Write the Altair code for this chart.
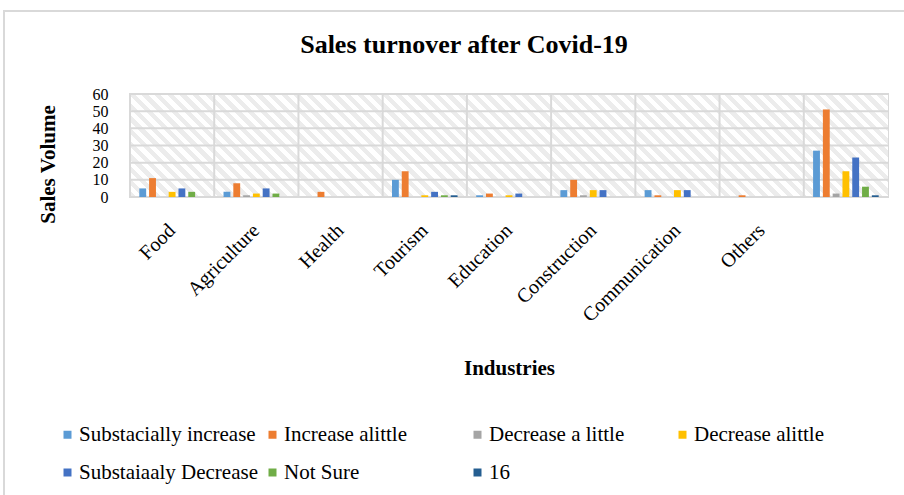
import altair as alt
import pandas as pd
import math

# ---- data ----
industries = ["Food", "Agriculture", "Health", "Tourism", "Education",
              "Construction", "Communication", "Others", "Total"]
series_names = ["Substacially increase", "Increase alittle", "Decrease a little",
                "Decrease alittle", "Substaiaaly Decrease", "Not Sure", "16"]
subst_increase    = [5, 3, 0, 10, 1, 4, 4, 0, 27]
increase_alittle  = [11, 8, 3, 15, 2, 10, 1, 1, 51]
decrease_a_little = [0, 1, 0, 0, 0, 1, 0, 0, 2]
decrease_alittle  = [3, 2, 0, 1, 1, 4, 4, 0, 15]
subst_decrease    = [5, 5, 0, 3, 2, 4, 4, 0, 23]
not_sure          = [3, 2, 0, 1, 0, 0, 0, 0, 6]
s16               = [0, 0, 0, 1, 0, 0, 0, 0, 1]
y_ticks = [0, 10, 20, 30, 40, 50, 60]

colors = ["#5B9BD5", "#ED7D31", "#A5A5A5", "#FFC000", "#4472C4", "#70AD47", "#255E91"]

all_series = [subst_increase, increase_alittle, decrease_a_little,
              decrease_alittle, subst_decrease, not_sure, s16]
rows = []
for name, vals in zip(series_names, all_series):
    for ind, v in zip(industries, vals):
        rows.append({"industry": ind, "series": name, "value": v})
df = pd.DataFrame(rows)

# ---- layout ----
W, H = 758, 103
PAD = {"left": 130, "top": 94, "right": 16, "bottom": 298}
FONT = "Liberation Serif"
GRID = "#d9d9d9"

# diagonal hatch background approximated with a striped linear gradient
r = H / W
k = (1 + r) / (1 + r * r)
n_periods = int(round((W + H) / math.sqrt(2) / 9))
stops = []
for i in range(n_periods):
    a = i / n_periods
    b = (i + 0.5) / n_periods
    c = (i + 1) / n_periods
    stops += [{"offset": a, "color": "#ececec"}, {"offset": b, "color": "#ececec"},
              {"offset": b, "color": "#ffffff"}, {"offset": c, "color": "#ffffff"}]
hatch = {"gradient": "linear", "x1": 0, "y1": 1, "x2": k, "y2": 1 - k * r, "stops": stops}

x_axis = alt.Axis(title="Industries", labelAngle=-45, labelAlign="right",
                  labelBaseline="middle", labelPadding=30, ticks=False,
                  domain=False, grid=False, labelOverlap=False,
                  labelFont=FONT, labelFontSize=20, labelColor="black",
                  labelExpr="datum.value == 'Total' ? '' : datum.value",
                  titleFont=FONT, titleFontSize=21, titleFontWeight="bold",
                  titleColor="black", titleBaseline="alphabetic",
                  titleY=177, titleX=W / 2, titleAlign="center")
x_scale = alt.Scale(paddingInner=0, paddingOuter=0)
y_axis = alt.Axis(title="Sales Volume", values=y_ticks, ticks=False,
                  domain=False, grid=False, labelOverlap=False,
                  labelPadding=22, labelFont=FONT, labelFontSize=16,
                  labelColor="black", labelBaseline="middle",
                  titleFont=FONT, titleFontSize=21, titleFontWeight="bold",
                  titleColor="black", titleBaseline="alphabetic",
                  titleAngle=-90, titleX=-76, titleY=70, titleAlign="center")
y_scale = alt.Scale(domain=[0, 60], nice=False)

one = pd.DataFrame({"a": [0]})

frame = alt.Chart(one).mark_rect(
    fill=None, stroke="#d9d9d9", strokeWidth=2
).encode(x=alt.value(-126), x2=alt.value(800), y=alt.value(-83), y2=alt.value(420))

background = alt.Chart(one).mark_rect(fill=hatch, strokeWidth=0).encode(
    x=alt.value(0), x2=alt.value(W), y=alt.value(0), y2=alt.value(H))

hgrid = alt.Chart(pd.DataFrame({"value": y_ticks})).mark_rule(
    color=GRID, strokeWidth=2).encode(
    y=alt.Y("value:Q", scale=y_scale, axis=y_axis))

vgrid = alt.Chart(pd.DataFrame({"industry": industries})).mark_rule(
    color=GRID, strokeWidth=2).encode(
    x=alt.X("industry:N", sort=industries, scale=x_scale, axis=x_axis, bandPosition=0))

bars = alt.Chart(df).mark_bar().encode(
    x=alt.X("industry:N", sort=industries, scale=x_scale, axis=x_axis),
    xOffset=alt.XOffset("series:N", sort=series_names,
                        scale=alt.Scale(paddingInner=0.3, paddingOuter=0.95)),
    y=alt.Y("value:Q", scale=y_scale, axis=y_axis),
    color=alt.Color("series:N", sort=series_names,
                    scale=alt.Scale(domain=series_names, range=colors),
                    legend=alt.Legend(title=None, orient="none", legendX=-73, legendY=330,
                                      direction="horizontal", columns=4,
                                      columnPadding=3, rowPadding=16,
                                      symbolType="square", symbolSize=64,
                                      symbolStrokeWidth=0, labelOffset=1,
                                      labelFont=FONT, labelFontSize=21,
                                      labelColor="black", gridAlign="all",
                                      labelLimit=400)),
)

chart = alt.layer(frame, background, hgrid, vgrid, bars).properties(
    width=W, height=H, padding=PAD, autosize="none",
    title=alt.Title("Sales turnover after Covid-19", font=FONT, fontSize=26,
                    fontWeight="bold", color="black", anchor="middle", dx=-45, dy=52)
).configure_view(stroke=GRID, strokeWidth=2)

chart.save("out.html", embed_options={"renderer": "svg", "actions": False})
